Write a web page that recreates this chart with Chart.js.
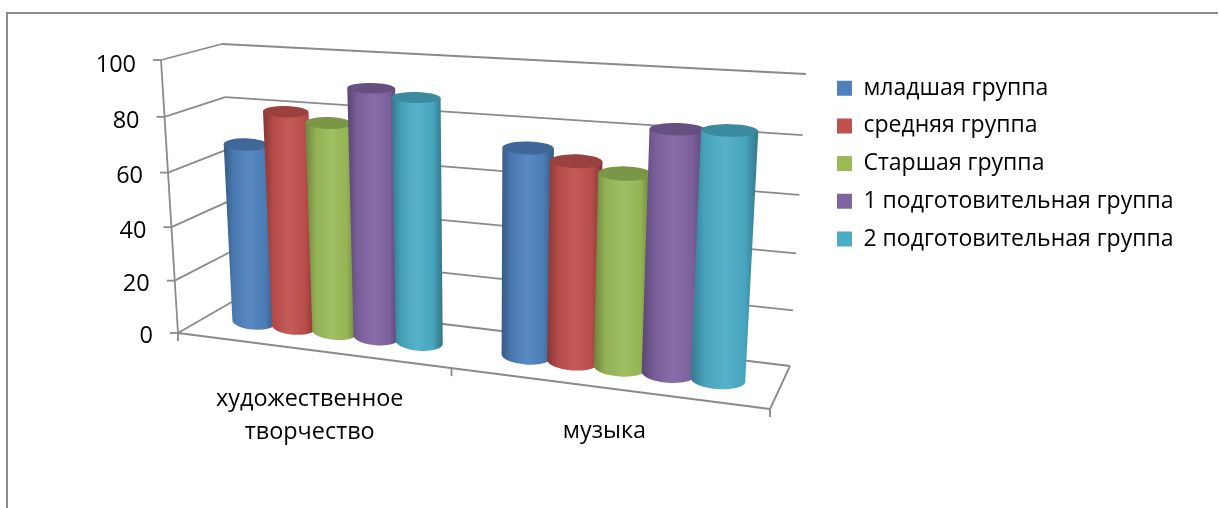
<!DOCTYPE html>
<html lang="ru">
<head>
<meta charset="utf-8">
<title>Диаграмма</title>
<script src="https://cdn.jsdelivr.net/npm/chart.js@4/dist/chart.umd.min.js"></script>
<style>
  html, body { margin: 0; background: #fff; overflow: hidden; }
  #wrap { position: relative; width: 1219px; height: 508px; }
  #frame { position: absolute; left: 6px; top: 12px; right: 1px; bottom: -4px; border-top: 2px solid #8c8c8c; border-left: 2px solid #8c8c8c; }
  canvas { position: absolute; left: 0; top: 0; }
</style>
</head>
<body>
<div id="wrap">
  <div id="frame"></div>
  <canvas id="myChart" width="1219" height="508"></canvas>
</div>
<script>
const categories = [["художественное", "творчество"], "музыка"];
const seriesNames = ["младшая группа", "средняя группа", "Старшая группа", "1 подготовительная группа", "2 подготовительная группа"];
const youngest = [67.5, 73.7];
const middle = [80.5, 70.4];
const older = [77.5, 67.5];
const prep1 = [90.7, 83.3];
const prep2 = [88.4, 84];
const yTicks = [0, 20, 40, 60, 80, 100];
const colors = ["#4F81BD", "#C0504D", "#9BBB59", "#8064A2", "#4BACC6"];

// углы передней и задней плоскости: низ-лево, низ-право, верх-право, верх-лево
const frontQuad = [[178, 333], [770, 409], [787, 93], [161, 60]];
const backQuad = [[237, 299], [790, 366], [806, 74], [222, 44]];
const gridColor = "#8a8a8a";
const textFont = '"Open Sans", sans-serif';

function project(u, v, d) {
  const q = frontQuad.map((p, i) => [p[0] + (backQuad[i][0] - p[0]) * d, p[1] + (backQuad[i][1] - p[1]) * d]);
  const [x0, y0] = q[0], [x1, y1] = q[1], [x2, y2] = q[2], [x3, y3] = q[3];
  const sx = x0 - x1 + x2 - x3, sy = y0 - y1 + y2 - y3;
  const dx1 = x1 - x2, dx2 = x3 - x2, dy1 = y1 - y2, dy2 = y3 - y2;
  const den = dx1 * dy2 - dx2 * dy1;
  const g = (sx * dy2 - dx2 * sy) / den, h = (dx1 * sy - sx * dy1) / den;
  const a = x1 - x0 + g * x1, b = x3 - x0 + h * x3;
  const c = y1 - y0 + g * y1, e = y3 - y0 + h * y3;
  const w = g * u + h * v + 1;
  return [(a * u + b * v + x0) / w, (c * u + e * v + y0) / w];
}

function shade(hex, f) {
  const n = parseInt(hex.slice(1), 16);
  const mix = (ch) => Math.round(f < 0 ? ch * (1 + f) : ch + (255 - ch) * f);
  return `rgb(${mix(n >> 16)},${mix((n >> 8) & 255)},${mix(n & 255)})`;
}

function line(ctx, a, b) {
  ctx.beginPath();
  ctx.moveTo(a[0], a[1]);
  ctx.lineTo(b[0], b[1]);
  ctx.stroke();
}

function drawCylinder(ctx, color, u, ur, v) {
  const depth = 0.5;
  const ring = (vv, depthR, tilt) => {
    const l = project(u - ur, vv, depth), r = project(u + ur, vv, depth);
    const near = project(u, vv, depth - depthR), far = project(u, vv, depth + depthR);
    const rx = Math.hypot(r[0] - l[0], r[1] - l[1]) / 2;
    const rot = Math.atan2(r[1] - l[1], r[0] - l[0]) * tilt;
    const cx = (l[0] + r[0]) / 2 - (0.8 - 1.5 * vv), cy = (l[1] + r[1]) / 2;
    return {
      cx, cy, rx, rot,
      ry: Math.abs(near[1] - far[1]) / 2,
      lx: cx - rx * Math.cos(rot), ly: cy - rx * Math.sin(rot),
      rxp: cx + rx * Math.cos(rot), ryp: cy + rx * Math.sin(rot),
    };
  };
  const bottom = ring(0, 0.22, 0.6), top = ring(v, 0.28, 0.35);

  const grad = ctx.createLinearGradient(Math.min(bottom.lx, top.lx), 0, Math.max(bottom.rxp, top.rxp), 0);
  grad.addColorStop(0, shade(color, -0.3));
  grad.addColorStop(0.2, shade(color, -0.06));
  grad.addColorStop(0.5, shade(color, 0.06));
  grad.addColorStop(0.8, shade(color, -0.04));
  grad.addColorStop(1, shade(color, -0.32));

  ctx.beginPath();
  ctx.ellipse(bottom.cx, bottom.cy, bottom.rx, bottom.ry, bottom.rot, 0, Math.PI);
  ctx.lineTo(top.lx, top.ly);
  ctx.lineTo(top.rxp, top.ryp);
  ctx.closePath();
  ctx.fillStyle = grad;
  ctx.fill();

  ctx.beginPath();
  ctx.ellipse(top.cx, top.cy, top.rx, top.ry, top.rot, 0, Math.PI * 2);
  ctx.fillStyle = shade(color, -0.2);
  ctx.fill();
}

const scene3d = {
  id: "scene3d",
  beforeDatasetsDraw(chart) {
    const { ctx, chartArea: area, scales } = chart;
    const W = area.right - area.left, H = area.bottom - area.top;
    const toV = (value) => (area.bottom - scales.y.getPixelForValue(value)) / H;

    ctx.save();
    ctx.strokeStyle = gridColor;
    ctx.lineWidth = 1.8;
    ctx.fillStyle = "#000";

    // стены и оси
    scales.y.ticks.forEach((tick) => {
      const v = toV(tick.value);
      const front = project(0, v, 0);
      line(ctx, project(1, v, 1), project(0, v, 1));
      line(ctx, project(0, v, 1), front);
      line(ctx, front, [front[0] - 8, front[1]]);
      ctx.font = "23.5px " + textFont;
      ctx.textAlign = "right";
      ctx.textBaseline = "middle";
      ctx.fillText(tick.label, front[0] - 25, front[1] + 3 + 2 * v);
    });
    line(ctx, project(0, 0, 0), project(0, 1, 0));
    line(ctx, project(0, 0, 0), project(1, 0, 0));
    line(ctx, project(1, 0, 0), project(1, 0, 1));

    // подписи категорий
    const nCat = scales.x.ticks.length;
    for (let i = 0; i <= nCat; i++) {
      const p = project(i / nCat, 0, 0);
      line(ctx, p, [p[0], p[1] + 8]);
    }
    scales.x.ticks.forEach((tick, i) => {
      const u = (scales.x.getPixelForTick(i) - area.left) / W;
      const p = project(u, 0, 0);
      const lines = [].concat(tick.label);
      ctx.font = "23.4px " + textFont;
      ctx.textAlign = "center";
      ctx.textBaseline = "middle";
      lines.forEach((text, k) => {
        ctx.fillText(text, p[0], p[1] + 52 - 11 * u + k * 33);
      });
    });

    // цилиндры
    chart.data.labels.forEach((label, j) => {
      chart.data.datasets.forEach((ds, i) => {
        const el = chart.getDatasetMeta(i).data[j].getProps(["x", "y", "width"], true);
        drawCylinder(ctx, colors[i], (el.x - area.left) / W, el.width / 2 / W, (area.bottom - el.y) / H);
      });
    });
    ctx.restore();
    return false;
  },
};

const allSeries = [youngest, middle, older, prep1, prep2];

new Chart(document.getElementById("myChart"), {
  type: "bar",
  data: {
    labels: categories,
    datasets: seriesNames.map((name, i) => ({
      label: name,
      data: allSeries[i],
      backgroundColor: colors[i],
      borderWidth: 0,
      barPercentage: 1.08,
      categoryPercentage: 0.78,
    })),
  },
  options: {
    responsive: false,
    animation: false,
    layout: { padding: { top: 62, right: 35.5, bottom: 60, left: 100 } },
    scales: {
      x: { grid: { display: false }, border: { display: false }, ticks: { display: false } },
      y: {
        min: 0,
        max: 100,
        afterBuildTicks(scale) {
          scale.ticks = yTicks.map((value) => ({ value }));
        },
        grid: { display: false },
        border: { display: false },
        ticks: { display: false },
      },
    },
    plugins: {
      tooltip: { enabled: false },
      legend: {
        position: "right",
        align: "start",
        maxWidth: 420,
        labels: {
          boxWidth: 15,
          boxHeight: 15,
          padding: 14.7,
          color: "#000",
          font: { family: textFont, size: 23 },
        },
      },
    },
  },
  plugins: [scene3d],
});
</script>
</body>
</html>
